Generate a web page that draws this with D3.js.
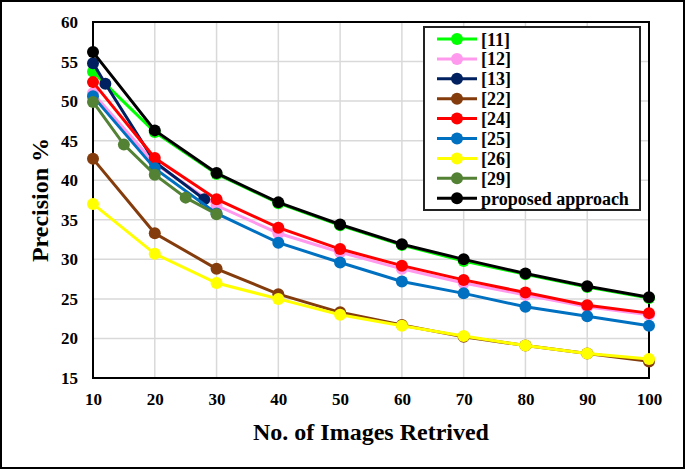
<!DOCTYPE html>
<html>
<head>
<meta charset="utf-8">
<script src="https://cdn.jsdelivr.net/npm/d3@7"></script>
<style>
  body { margin: 0; background: #fff; }
  svg text { font-family: "Liberation Serif", "Times New Roman", serif; font-weight: bold; }
</style>
</head>
<body>
<svg id="chart" width="685" height="469"></svg>
<script>
// values
var xTicks = [10, 20, 30, 40, 50, 60, 70, 80, 90, 100];
var yTicks = [15, 20, 25, 30, 35, 40, 45, 50, 55, 60];
var xFull = [10, 20, 30, 40, 50, 60, 70, 80, 90, 100];

var x13 = [10, 12, 20, 28];
var x29 = [10, 15, 20, 25, 30];

var ref11 = [53.7, 46.1, 40.8, 37.1, 34.3, 31.8, 29.8, 28.1, 26.5, 25.1];
var ref12 = [51.0, 42.1, 36.8, 33.3, 30.9, 28.8, 27.0, 25.5, 24.0, 23.0];
var ref13 = [54.8, 52.2, 42.3, 37.6];
var ref22 = [42.7, 33.3, 28.8, 25.6, 23.3, 21.7, 20.2, 19.1, 18.1, 17.1];
var ref24 = [52.4, 42.8, 37.6, 34.0, 31.3, 29.2, 27.4, 25.8, 24.2, 23.2];
var ref25 = [50.6, 41.5, 35.8, 32.1, 29.6, 27.2, 25.7, 24.0, 22.8, 21.6];
var ref26 = [37.0, 30.7, 27.0, 25.0, 23.0, 21.6, 20.3, 19.1, 18.1, 17.4];
var ref29 = [49.9, 44.5, 40.7, 37.8, 35.7];
var proposed = [56.2, 46.3, 40.9, 37.2, 34.4, 31.9, 30.0, 28.2, 26.6, 25.2];

var seriesNames = ["[11]", "[12]", "[13]", "[22]", "[24]", "[25]", "[26]", "[29]", "proposed approach"];
var seriesColors = ["#00ff00", "#ff99ee", "#002060", "#843c0c", "#ff0000", "#0070c0", "#ffff00", "#548235", "#000000"];
var seriesX = [xFull, xFull, x13, xFull, xFull, xFull, xFull, x29, xFull];
var seriesY = [ref11, ref12, ref13, ref22, ref24, ref25, ref26, ref29, proposed];

var svg = d3.select("#chart");
var W = 685, H = 469;
var plotLeft = 93, plotRight = 649, plotTop = 22, plotBottom = 378;

// outer frame
svg.append("rect")
    .attr("x", 1).attr("y", 1)
    .attr("width", W - 2).attr("height", H - 2)
    .attr("fill", "#fff").attr("stroke", "#000").attr("stroke-width", 2);

var x = d3.scaleLinear().domain([10, 100]).range([plotLeft, plotRight]);
var y = d3.scaleLinear().domain([15, 60]).range([plotBottom, plotTop]);

// grid
svg.append("g")
    .selectAll("line")
    .data(xTicks)
    .enter().append("line")
    .attr("x1", function(d) { return x(d); })
    .attr("x2", function(d) { return x(d); })
    .attr("y1", plotTop).attr("y2", plotBottom)
    .attr("stroke", "#d9d9d9").attr("stroke-width", 1.5);

svg.append("g")
    .selectAll("line")
    .data(yTicks)
    .enter().append("line")
    .attr("x1", plotLeft).attr("x2", plotRight)
    .attr("y1", function(d) { return y(d); })
    .attr("y2", function(d) { return y(d); })
    .attr("stroke", "#d9d9d9").attr("stroke-width", 1.5);

// plot border
svg.append("rect")
    .attr("x", plotLeft).attr("y", plotTop)
    .attr("width", plotRight - plotLeft).attr("height", plotBottom - plotTop)
    .attr("fill", "none").attr("stroke", "#000").attr("stroke-width", 2);

// axes (labels only, lines drawn by the border)
var xAxis = svg.append("g")
    .attr("transform", "translate(0," + plotBottom + ")")
    .call(d3.axisBottom(x).tickValues(xTicks).tickSize(0).tickPadding(15));
var yAxis = svg.append("g")
    .attr("transform", "translate(" + plotLeft + ",0)")
    .call(d3.axisLeft(y).tickValues(yTicks).tickSize(0).tickPadding(15));
xAxis.select(".domain").remove();
yAxis.select(".domain").remove();
svg.selectAll(".tick text")
    .attr("font-size", 17)
    .attr("font-family", "Liberation Serif, serif")
    .attr("font-weight", "bold")
    .attr("fill", "#000");

// axis titles
svg.append("text")
    .attr("x", (plotLeft + plotRight) / 2)
    .attr("y", 440)
    .attr("text-anchor", "middle")
    .attr("font-size", 24)
    .text("No. of Images Retrived");

svg.append("text")
    .attr("transform", "translate(48," + ((plotTop + plotBottom) / 2) + ") rotate(-90)")
    .attr("text-anchor", "middle")
    .attr("font-size", 24)
    .text("Precision %");

// series
var line = d3.line()
    .x(function(d) { return x(d[0]); })
    .y(function(d) { return y(d[1]); });

seriesNames.forEach(function(name, i) {
    var pts = seriesX[i].map(function(v, j) { return [v, seriesY[i][j]]; });
    var g = svg.append("g");
    g.append("path")
        .datum(pts)
        .attr("d", line)
        .attr("fill", "none")
        .attr("stroke", seriesColors[i])
        .attr("stroke-width", 3);
    g.selectAll("circle")
        .data(pts)
        .enter().append("circle")
        .attr("cx", function(d) { return x(d[0]); })
        .attr("cy", function(d) { return y(d[1]); })
        .attr("r", 6)
        .attr("fill", seriesColors[i]);
});

// legend
var legend = svg.append("g");
legend.append("rect")
    .attr("x", 424).attr("y", 27)
    .attr("width", 216).attr("height", 183)
    .attr("fill", "#fff").attr("stroke", "#222").attr("stroke-width", 2);

var item = legend.selectAll("g.item")
    .data(seriesNames)
    .enter().append("g")
    .attr("transform", function(d, i) { return "translate(0," + (39 + i * 19.9) + ")"; });
item.append("line")
    .attr("x1", 437).attr("x2", 477)
    .attr("stroke", function(d, i) { return seriesColors[i]; })
    .attr("stroke-width", 3);
item.append("circle")
    .attr("cx", 457).attr("r", 6)
    .attr("fill", function(d, i) { return seriesColors[i]; });
item.append("text")
    .attr("x", 481).attr("y", 6.5)
    .attr("font-size", 18)
    .text(function(d) { return d; });
</script>
</body>
</html>
